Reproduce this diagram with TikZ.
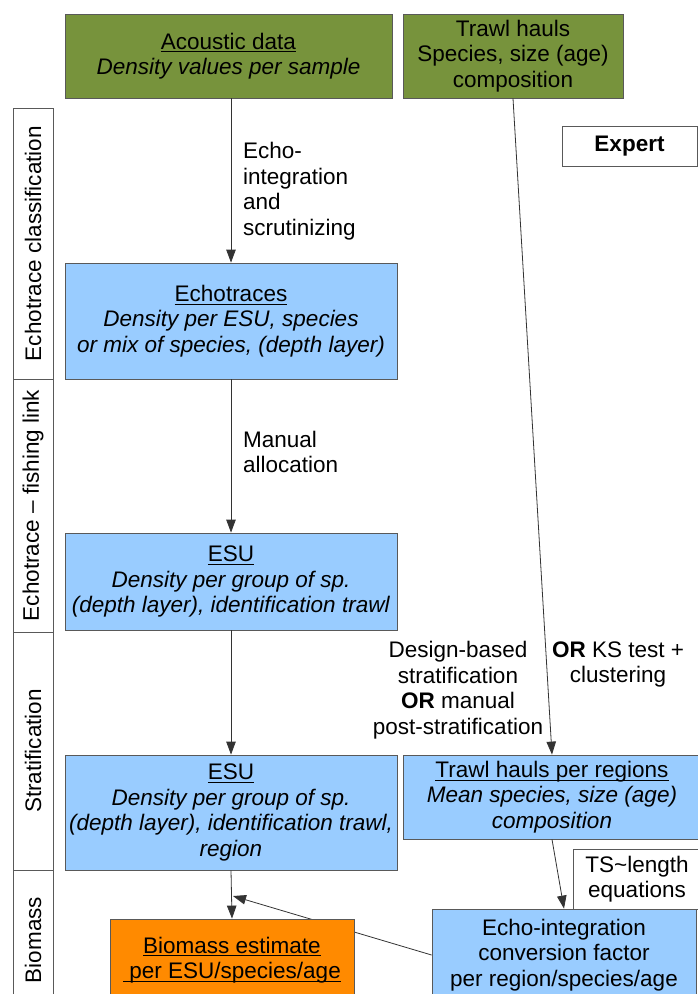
\documentclass[tikz,border=0pt]{standalone}
\usepackage{fontspec}
\setmainfont{Liberation Sans}
\usetikzlibrary{arrows.meta,backgrounds}

\definecolor{datagreen}{HTML}{77933C}
\definecolor{stepblue}{HTML}{99CCFF}
\definecolor{resultorange}{HTML}{FF8A00}

% underline at a fixed depth, through the descenders
\newcommand{\titleline}[1]{\leavevmode\setbox0\hbox{#1}\rlap{\vrule height -2.4pt depth 3.4pt width \wd0}\box0}

\begin{document}
\begin{tikzpicture}[x=1pt, y=-1pt,
    every node/.style={font=\fontsize{22.5}{25.5}\selectfont, align=center, inner sep=0pt},
    box/.style={draw=black!65, line width=0.8pt},
    databox/.style={box, fill=datagreen},
    stepbox/.style={box, fill=stepblue},
    resultbox/.style={box, fill=resultorange},
    lane/.style={draw=black!65, line width=0.8pt, rotate=90, minimum height=40pt},
    flow/.style={draw=black!80, line width=0.8pt, -{Triangle[length=13pt,width=9.5pt]}}
]
    \useasboundingbox (0,0) rectangle (698,994);

    % side lanes
    \node[lane, minimum width=271pt] (lane1) at (33,243.5) {Echotrace classification};
    \node[lane, minimum width=253pt] (lane2) at (33,505.5) {Echotrace -- fishing link};
    \node[lane, minimum width=238pt] (lane3) at (33,751) {Stratification};
    \node[lane, minimum width=140pt] (lane4) at (33,940) {Biomass};

    % input data
    \node[databox, minimum width=327pt, minimum height=84pt] (acoustic) at (228.5,56)
        {\titleline{Acoustic data}\\ \textit{Density values per sample}};
    \node[databox, minimum width=220pt, minimum height=84pt] (trawl) at (513,56)
        {Trawl hauls\\ Species, size (age)\\ composition};
    \node[box, minimum width=135pt, minimum height=40pt] (expert) at (629.5,146)
        {\textbf{Expert}};

    % processing steps
    \node[stepbox, minimum width=332pt, minimum height=116pt] (echotraces) at (231,321)
        {\titleline{Echotraces}\\ \textit{Density per ESU, species}\\ \textit{or mix of species, (depth layer)}};
    \node[stepbox, minimum width=332pt, minimum height=97pt] (esu) at (231,581.5)
        {\titleline{ESU}\\ \textit{Density per group of sp.}\\ \textit{(depth layer), identification trawl}};
    \node[stepbox, minimum width=332pt, minimum height=115pt] (esureg) at (231,812.5)
        {\titleline{ESU}\\ \textit{Density per group of sp.}\\ \textit{(depth layer), identification trawl,}\\ \textit{region}};
    \node[stepbox, minimum width=298pt, minimum height=84pt] (trawlreg) at (552,797)
        {\titleline{Trawl hauls per regions}\\ \textit{Mean species, size (age)}\\ \textit{composition}};
    \node[box, fill=white, minimum width=128pt, minimum height=60pt] (tslength) at (637,879)
        {TS\textasciitilde length\\ equations};
    \node[stepbox, minimum width=264pt, minimum height=92pt] (echoconv) at (564,955)
        {Echo-integration\\ conversion factor\\ per region/species/age};
    \node[resultbox, minimum width=244pt, minimum height=82pt] (biomass) at (232,960)
        {\titleline{Biomass estimate}\\ \titleline{\ per ESU/species/age}};

    % step labels
    \node[anchor=west, align=left] (echolbl) at (243,191) {Echo-\\ integration\\ and\\ scrutinizing};
    \node[anchor=west, align=left] (manuallbl) at (243,452) {Manual\\ allocation};
    \node (designlbl) at (458,690) {Design-based\\ stratification\\ \textbf{OR} manual\\ post-stratification};
    \node (kslbl) at (618,664.5) {\textbf{OR} KS test +\\ clustering};

    % connectors
    \draw[flow] (echotraces.north |- acoustic.south) -- (echotraces.north);
    \draw[flow] (echotraces.south) -- (esu.north);
    \draw[flow] (esu.south) -- (esureg.north);
    \draw[flow] (trawl.south) -- (trawlreg.north);
    \draw[flow] (trawlreg.south) -- (echoconv.north);
    \draw[flow] (esureg.south) -- (biomass.north);
    \coordinate (merge) at (233,896);
    \begin{scope}[on background layer]
        \draw[flow] (echoconv.west) -- (merge);
    \end{scope}
\end{tikzpicture}
\end{document}
